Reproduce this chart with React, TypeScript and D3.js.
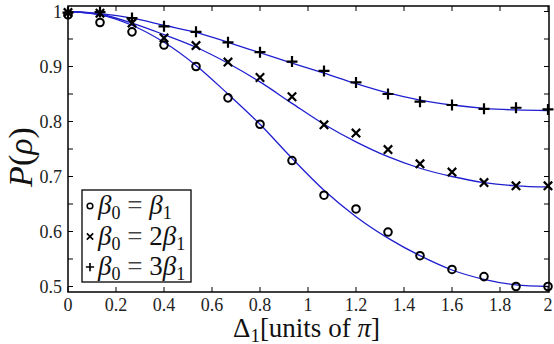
import React from "react";
import * as d3 from "d3";

const W = 554;
const H = 344;

const xData = [0, 2 / 15, 4 / 15, 6 / 15, 8 / 15, 10 / 15, 12 / 15, 14 / 15, 16 / 15, 18 / 15, 20 / 15, 22 / 15, 24 / 15, 26 / 15, 28 / 15, 2];

const circleMeas = [0.994, 0.98, 0.963, 0.939, 0.9, 0.843, 0.795, 0.729, 0.666, 0.641, 0.599, 0.556, 0.531, 0.518, 0.5, 0.5];
const crossMeas = [0.998, 0.997, 0.979, 0.952, 0.938, 0.908, 0.88, 0.845, 0.794, 0.779, 0.749, 0.723, 0.708, 0.689, 0.683, 0.683];
const plusMeas = [0.998, 0.999, 0.988, 0.973, 0.963, 0.944, 0.926, 0.909, 0.892, 0.871, 0.85, 0.836, 0.83, 0.823, 0.825, 0.822];

const circleTheory = [1.0, 0.994, 0.975, 0.944, 0.902, 0.85, 0.795, 0.733, 0.675, 0.627, 0.588, 0.556, 0.53, 0.513, 0.503, 0.5];
const crossTheory = [1.0, 0.995, 0.979, 0.958, 0.935, 0.906, 0.872, 0.833, 0.795, 0.763, 0.736, 0.715, 0.7, 0.689, 0.683, 0.681];
const plusTheory = [1.0, 0.996, 0.988, 0.975, 0.962, 0.944, 0.925, 0.906, 0.888, 0.869, 0.852, 0.839, 0.83, 0.824, 0.821, 0.82];

const xTicks = [0, 0.2, 0.4, 0.6, 0.8, 1, 1.2, 1.4, 1.6, 1.8, 2];
const xTickLabels = ["0", "0.2", "0.4", "0.6", "0.8", "1", "1.2", "1.4", "1.6", "1.8", "2"];
const yTicks = [0.5, 0.6, 0.7, 0.8, 0.9, 1];
const yTickLabels = ["0.5", "0.6", "0.7", "0.8", "0.9", "1"];
const yMinorTicks = [0.55, 0.65, 0.75, 0.85, 0.95];

const legendLabels = [
  ["β", "0", " = ", "", "β", "1"],
  ["β", "0", " = ", "2", "β", "1"],
  ["β", "0", " = ", "3", "β", "1"],
];

const FONT = "Liberation Serif";

function Marker({ kind, x, y }: { kind: string; x: number; y: number }) {
  if (kind === "o") return <circle cx={x} cy={y} r={3.8} fill="none" stroke="#000" strokeWidth={2} />;
  if (kind === "x") {
    const s = 4.2;
    return (
      <path d={`M${x - s},${y - s}L${x + s},${y + s}M${x - s},${y + s}L${x + s},${y - s}`} stroke="#000" strokeWidth={2.2} />
    );
  }
  const s = 5.5;
  return <path d={`M${x - s},${y}L${x + s},${y}M${x},${y - s}L${x},${y + s}`} stroke="#000" strokeWidth={2.2} />;
}

function T(props: any) {
  const { children, size, ...rest } = props;
  return (
    <text {...rest} fontFamily={FONT} style={{ fontFamily: FONT, fontSize: size + "px" }}>
      {children}
    </text>
  );
}

export default function App() {
  const left = 68, right = 548, top = 6, bottom = 292;
  const x = d3.scaleLinear().domain([0, 2]).range([left, right]);
  const y = d3.scaleLinear().domain([0.5, 1]).range([286.5, 11.5]);

  const line = d3
    .line<number>()
    .x((_, i) => x(xData[i]))
    .y((d) => y(d))
    .curve(d3.curveMonotoneX);

  const series = [
    { kind: "o", meas: circleMeas, theory: circleTheory },
    { kind: "x", meas: crossMeas, theory: crossTheory },
    { kind: "+", meas: plusMeas, theory: plusTheory },
  ];

  const tickLen = 5;

  return (
    <svg width={W} height={H} style={{ position: "absolute", left: 0, top: 0, fontFamily: FONT }}>
      <rect x={0} y={0} width={W} height={H} fill="#fff" />
      <defs>
        <clipPath id="plotclip">
          <rect x={left} y={top} width={right - left + 2} height={bottom - top} />
        </clipPath>
      </defs>
      <g clipPath="url(#plotclip)">
        {series.map((s, i) => (
          <path key={i} d={line(s.theory) || ""} fill="none" stroke="#1f1fd0" strokeWidth={1.3} />
        ))}
      </g>
      {series.map((s, i) => (
        <g key={i}>
          {s.meas.map((v, j) => (
            <Marker key={j} kind={s.kind} x={x(xData[j])} y={y(v)} />
          ))}
        </g>
      ))}
      <rect x={left} y={top} width={right + 1 - left} height={bottom - top} fill="none" stroke="#000" strokeWidth={1.5} />
      {xTicks.map((t, i) => (
        <g key={i}>
          <line x1={x(t)} x2={x(t)} y1={bottom} y2={bottom - tickLen} stroke="#000" strokeWidth={1} />
          <line x1={x(t)} x2={x(t)} y1={top} y2={top + tickLen} stroke="#000" strokeWidth={1} />
          <T x={x(t)} y={311} textAnchor="middle" size={18} fill="#222">
            {xTickLabels[i]}
          </T>
        </g>
      ))}
      {yTicks.concat(yMinorTicks).map((t, i) => (
        <g key={"y" + i}>
          <line x1={left} x2={left + tickLen} y1={y(t)} y2={y(t)} stroke="#000" strokeWidth={1} />
          <line x1={right + 1} x2={right + 1 - tickLen} y1={y(t)} y2={y(t)} stroke="#000" strokeWidth={1} />
        </g>
      ))}
      {yTicks.map((t, i) => (
        <T key={"yl" + i} x={62} y={y(t)} dy="0.35em" textAnchor="end" size={18} fill="#222">
          {yTickLabels[i]}
        </T>
      ))}
      <T transform={`translate(32,157) rotate(-90)`} textAnchor="middle" size={34} fill="#111">
        <tspan fontStyle="italic">P</tspan>
        <tspan>(</tspan>
        <tspan fontStyle="italic">ρ</tspan>
        <tspan>)</tspan>
      </T>
      <T x={233} y={337} size={27} fill="#111">
        <tspan>Δ</tspan>
        <tspan fontSize={19} dy={5}>1</tspan>
        <tspan dy={-5}>[units of </tspan>
        <tspan fontStyle="italic">π</tspan>
        <tspan>]</tspan>
      </T>
      <rect x={82} y={190} width={109} height={92} fill="#fff" stroke="#000" strokeWidth={1.3} />
      {series.map((s, i) => {
        const cy = 206 + i * 30.5;
        const lab = legendLabels[i];
        return (
          <g key={"lg" + i}>
            <g transform={`translate(${90},${cy}) scale(0.75) translate(${-90},${-cy})`}>
              <Marker kind={s.kind} x={90} y={cy} />
            </g>
            <T x={98} y={cy + 8} size={27} fill="#111">
              <tspan fontStyle="italic">{lab[0]}</tspan>
              <tspan fontSize={18} dy={5}>{lab[1]}</tspan>
              <tspan dy={-5} fill="#444">{lab[2]}</tspan>
              <tspan>{lab[3]}</tspan>
              <tspan fontStyle="italic">{lab[4]}</tspan>
              <tspan fontSize={18} dy={5}>{lab[5]}</tspan>
            </T>
          </g>
        );
      })}
    </svg>
  );
}
